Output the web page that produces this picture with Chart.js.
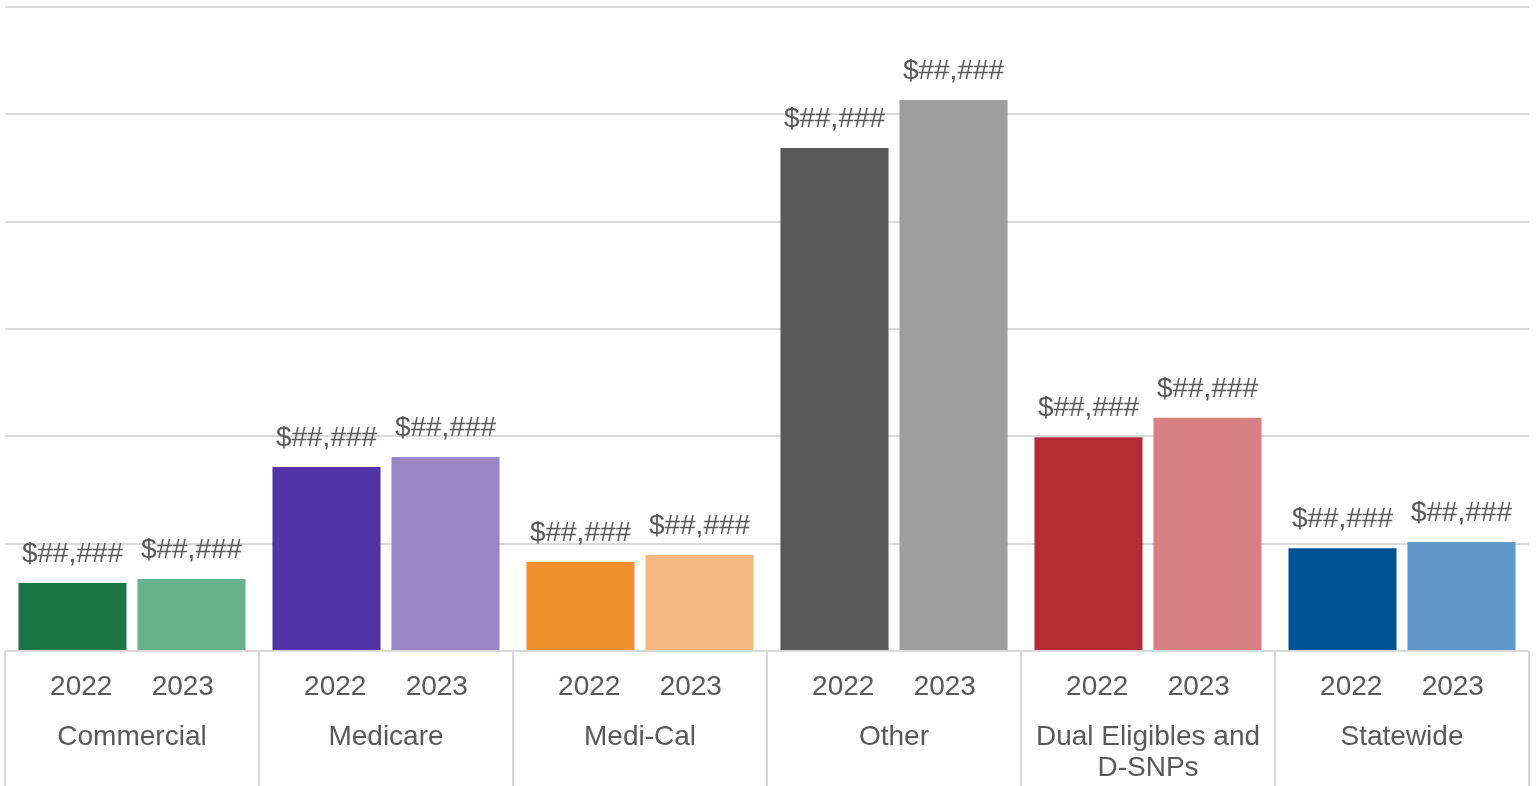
<!DOCTYPE html>
<html lang="en">
<head>
    <meta charset="UTF-8">
    <title>Average cost by market</title>
    <script src="https://cdn.jsdelivr.net/npm/chart.js@4.4.0/dist/chart.umd.min.js"></script>
    <style>
        body { margin: 0; background: #fff; }
        .wrap { width: 1536px; height: 786px; }
    </style>
</head>
<body>
    <div class="wrap"><canvas id="myChart"></canvas></div>

    <script>
        // markets and the two years shown under each group
        const markets = ['Commercial', 'Medicare', 'Medi-Cal', 'Other', ['Dual Eligibles and', 'D-SNPs'], 'Statewide']
        const years = ['2022', '2023']

        const values2022 = [6340, 17140, 8290, 46860, 19910, 9570]
        const values2023 = [6710, 18080, 8940, 51340, 21740, 10160]

        const colors2022 = ['#1b7444', '#5334a7', '#f28f2f', '#595959', '#b42b34', '#005295']
        const colors2023 = ['#67b38b', '#9b86c6', '#f5b97f', '#9e9e9e', '#d68084', '#6198c8']

        const valueLabel = '$##,###'
        const yMax = 60000
        const yStep = 10000

        const textColor = '#595959'
        const font = '28px "Liberation Sans", Arial, sans-serif'

        // value text over each bar
        const barLabels = {
            id: 'barLabels',
            afterDatasetsDraw(chart) {
                const ctx = chart.ctx
                ctx.save()
                ctx.font = font
                ctx.fillStyle = textColor
                ctx.textAlign = 'center'
                ctx.textBaseline = 'alphabetic'
                chart.data.datasets.forEach((ds, i) => {
                    chart.getDatasetMeta(i).data.forEach(bar => {
                        ctx.fillText(valueLabel, bar.x, bar.y - 21)
                    })
                })
                ctx.restore()
            }
        }

        // two level category axis: year row, market row, group separators
        const groupAxis = {
            id: 'groupAxis',
            afterDraw(chart) {
                const ctx = chart.ctx
                const x = chart.scales.x
                const area = chart.chartArea
                const w = (area.right - area.left) / markets.length
                ctx.save()
                ctx.strokeStyle = '#d9d9d9'
                ctx.lineWidth = 2
                for (let i = 0; i <= markets.length; i++) {
                    const px = Math.round(area.left + i * w)
                    ctx.beginPath()
                    ctx.moveTo(px, area.bottom)
                    ctx.lineTo(px, chart.height)
                    ctx.stroke()
                }
                ctx.font = font
                ctx.fillStyle = textColor
                ctx.textAlign = 'center'
                ctx.textBaseline = 'alphabetic'
                markets.forEach((m, i) => {
                    const cx = x.getPixelForValue(i)
                    ctx.fillText(years[0], cx - w * 0.2, area.bottom + 44)
                    ctx.fillText(years[1], cx + w * 0.2, area.bottom + 44)
                    const lines = Array.isArray(m) ? m : [m]
                    lines.forEach((line, j) => {
                        ctx.fillText(line, cx, area.bottom + 94 + j * 31)
                    })
                })
                ctx.restore()
            }
        }

        const ctx = document.getElementById('myChart').getContext('2d')
        new Chart(ctx, {
            type: 'bar',
            data: {
                labels: markets.map(m => Array.isArray(m) ? m.join(' ') : m),
                datasets: [
                    { label: years[0], data: values2022, backgroundColor: colors2022 },
                    { label: years[1], data: values2023, backgroundColor: colors2023 }
                ]
            },
            options: {
                responsive: true,
                maintainAspectRatio: false,
                animation: false,
                layout: { padding: { left: 5, right: 7, top: 7, bottom: 135 } },
                datasets: {
                    bar: { categoryPercentage: 0.937, barPercentage: 0.908 }
                },
                plugins: {
                    legend: { display: false },
                    tooltip: { enabled: false }
                },
                scales: {
                    x: {
                        display: false
                    },
                    y: {
                        min: 0,
                        max: yMax,
                        ticks: { display: false, stepSize: yStep },
                        border: { display: false },
                        grid: { color: '#d9d9d9', lineWidth: 2, drawTicks: false, tickLength: 0 }
                    }
                }
            },
            plugins: [barLabels, groupAxis]
        })
    </script>
</body>
</html>
